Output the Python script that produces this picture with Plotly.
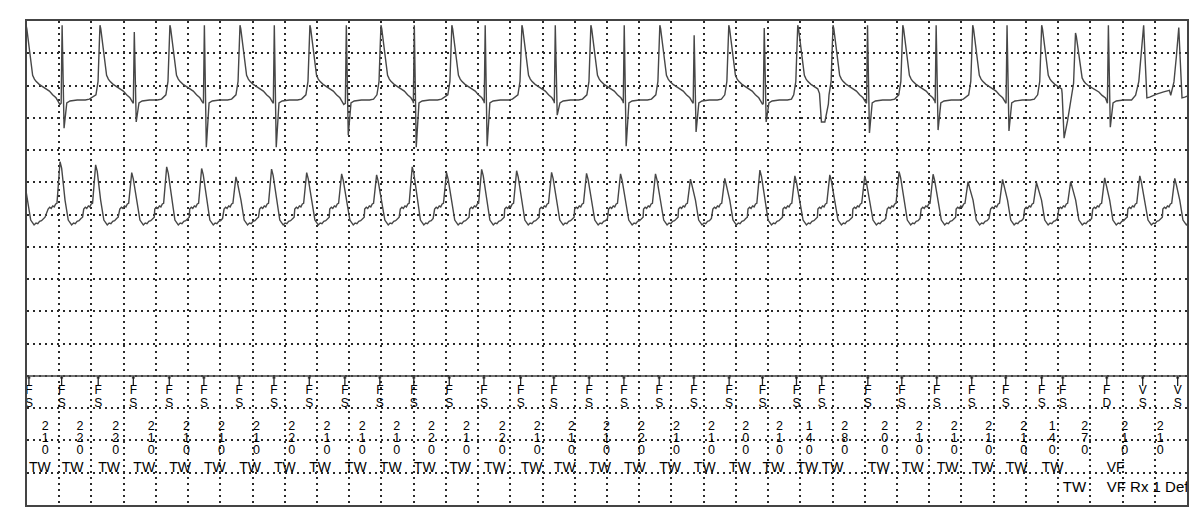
import plotly.graph_objects as go

# ---------------- data (time in ms, 200 ms per grid division; amplitude in grid divisions) ----------------
# Channel 1 (upper electrogram)
ch1_broad_t = [-6, 453, 887, 1322, 1756, 2197, 2637, 3072, 3500, 3928, 4356, 4784, 5003, 5436, 5870, 6298, 6508]
ch1_broad_peak = [14.87, 14.87, 14.87, 14.87, 14.87, 14.87, 14.87, 14.87, 14.87, 14.87, 14.87, 14.87, 14.87,
                  14.87, 14.87, 14.87, 14.63]
ch1_spike_t = [222, 670, 1105, 1539, 1986, 2408, 2848, 3283, 3711, 4145, 4580, 5221, 5647, 6087, 6716]
ch1_spike_top = [14.87, 14.66, 14.87, 14.87, 14.87, 14.87, 14.87, 14.87, 14.87, 14.56, 14.78, 14.87, 14.87,
                 14.87, 14.87]
ch1_spike_bottom = [11.68, 11.87, 11.09, 11.09, 11.46, 11.09, 11.12, 12.08, 11.12, 11.56, 11.87, 11.53, 11.62,
                    11.59, 11.71]
ch1_notch_t = [4931, 6437]
ch1_notch_depth = [11.87, 11.37]
ch1_notch_hold = [21, 0]
ch1_narrow_t = [6931, 7149]
ch1_narrow_peak = [14.87, 14.80]

# Channel 2 (lower electrogram)
ch2_beat_t = [-28, 205, 426, 650, 867, 1084, 1297, 1518, 1736, 1953, 2170, 2391, 2604, 2822, 3039, 3256,
              3473, 3684, 3901, 4118, 4331, 4549, 4766, 4983, 5200, 5413, 5624, 5841, 6055, 6266, 6478,
              6689, 6907, 7124]
ch2_beat_peak = [10.30, 10.64, 10.54, 10.30, 10.48, 10.43, 10.17, 10.41, 10.30, 10.26, 10.23, 10.48, 10.30,
                 10.40, 10.36, 10.31, 10.28, 10.26, 10.26, 10.10, 10.12, 10.38, 10.20, 10.23, 10.20, 10.33,
                 10.25, 10.02, 10.09, 9.99, 10.02, 10.14, 10.20, 10.12]

# Marker channel
marker_t = [12, 215, 442, 660, 883, 1098, 1317, 1533, 1752, 1973, 2190, 2401, 2621, 2836, 3064, 3270,
            3489, 3705, 3924, 4139, 4358, 4565, 4776, 4933, 5219, 5430, 5647, 5864, 6075, 6298, 6429,
            6702, 6925, 7142]
marker_top = ["F"] * 32 + ["V", "V"]
marker_bottom = ["S"] * 31 + ["D"] + ["S", "S"]
interval_ms = [210, 220, 220, 210, 210, 210, 210, 220, 210, 210, 210, 220, 210, 220, 210, 210, 210, 220,
               210, 210, 200, 210, 140, 280, 200, 210, 210, 210, 210, 140, 270, 210, 210]
zone_row1 = ["TW"] * 30 + ["", "VF", "", ""]
zone_row2 = [""] * 30 + ["TW", "VF Rx 1 Def", "", ""]

# ---------------- waveform shapes (morphology templates) ----------------
BASE1 = 12.55
BASE2 = 9.05
BROAD = [(-25, 0.07), (-12, 0.25), (-5, 0.7), (0, 1.0), (5, 0.95), (12, 0.83), (21, 0.69), (31, 0.47),
         (41, 0.33), (52, 0.28), (62, 0.25), (82, 0.21), (103, 0.18), (124, 0.15), (145, 0.12),
         (165, 0.07), (186, 0.03), (200, -0.02), (210, -0.06)]
NARROW = [(-50, 0.065), (-30, 0.25), (-15, 0.6), (0, 1.0), (8, 0.6), (20, 0.03), (37, 0.04), (80, 0.08),
          (124, 0.11), (160, 0.13)]
BEAT = [(-74, 0.12), (-64, 0.18), (-55, 0.14), (-45, 0.22), (-36, 0.19), (-27, 0.28), (-19, 0.30),
        (0, None), (10, "p2"), (31, 0.40), (51, -0.22), (72, -0.37), (84, -0.31), (95, -0.33),
        (106, -0.26), (118, -0.24), (130, -0.17), (140, -0.13)]


def assemble(events):
    events.sort(key=lambda e: e[0][0])
    xs, ys = [], []
    for i, pts in enumerate(events):
        limit = events[i + 1][0][0] if i + 1 < len(events) else float("inf")
        for t, y in pts:
            if t < limit:
                xs.append(t)
                ys.append(y)
    return xs, ys


ev1 = []
for t, pk in zip(ch1_broad_t, ch1_broad_peak):
    ev1.append([(t + dt, BASE1 + f * (pk - BASE1)) for dt, f in BROAD])
for t, top, bot in zip(ch1_spike_t, ch1_spike_top, ch1_spike_bottom):
    ev1.append([(t - 10, BASE1 - 0.1), (t - 4, top), (t + 8, bot), (t + 25, BASE1 - 0.09),
                (t + 45, BASE1 - 0.03), (t + 90, BASE1), (t + 140, BASE1), (t + 165, BASE1 + 0.03)])
for t, d, h in zip(ch1_notch_t, ch1_notch_depth, ch1_notch_hold):
    ev1.append([(t - 12, BASE1 + 0.2), (t, d), (t + h + 0.1, d), (t + h + 22, d + 0.55)])
for t, pk in zip(ch1_narrow_t, ch1_narrow_peak):
    ev1.append([(t + dt, BASE1 + f * (pk - BASE1)) for dt, f in NARROW])
x1, y1 = assemble(ev1)

ev2 = []
for t, pk in zip(ch2_beat_t, ch2_beat_peak):
    pts = []
    for dt, f in BEAT:
        if f is None:
            y = pk
        elif f == "p2":
            y = pk - 0.2
        else:
            y = BASE2 + f
        pts.append((t + dt, y))
    ev2.append(pts)
x2, y2 = assemble(ev2)

# ---------------- figure ----------------
FONT = "Liberation Sans, Arial, sans-serif"
TXT = "#000000"
fig = go.Figure()
fig.add_trace(go.Scatter(x=x1, y=y1, mode="lines", line=dict(color="#474747", width=1.4),
                         hoverinfo="skip"))
fig.add_trace(go.Scatter(x=x2, y=y2, mode="lines", line=dict(color="#474747", width=1.4),
                         hoverinfo="skip"))

# marker ticks
tx, ty = [], []
for t in marker_t:
    tx += [t, t, None, t - 9, t + 9, None]
    ty += [4.0, 3.69, None, 3.94, 3.94, None]
fig.add_trace(go.Scatter(x=tx, y=ty, mode="lines", line=dict(color="#222222", width=1.3),
                         hoverinfo="skip"))

fig.add_trace(go.Scatter(x=marker_t, y=[3.53] * len(marker_t), mode="text", text=marker_top,
                         textposition="middle center", textfont=dict(family=FONT, size=12, color=TXT)))
fig.add_trace(go.Scatter(x=marker_t, y=[3.13] * len(marker_t), mode="text", text=marker_bottom,
                         textposition="middle center", textfont=dict(family=FONT, size=12, color=TXT)))

mid_t = [(a + b) / 2 for a, b in zip(marker_t[:-1], marker_t[1:])]
digits = [f"{v:03d}" for v in interval_ms]
for k, yy in enumerate([2.42, 2.05, 1.68]):
    fig.add_trace(go.Scatter(x=mid_t, y=[yy] * len(mid_t), mode="text", text=[d[k] for d in digits],
                             textposition="middle center",
                             textfont=dict(family=FONT, size=12.5, color=TXT)))

fig.add_trace(go.Scatter(x=marker_t, y=[1.13] * len(marker_t), mode="text", text=zone_row1,
                         textposition="middle right", textfont=dict(family=FONT, size=14, color=TXT)))
fig.add_trace(go.Scatter(x=marker_t, y=[0.53] * len(marker_t), mode="text", text=zone_row2,
                         textposition="middle right", textfont=dict(family=FONT, size=15, color=TXT)))

axis_common = dict(showgrid=True, gridcolor="#2a2a2a", gridwidth=2, griddash="2px,4px",
                   showline=True, mirror=True, linecolor="#444444", linewidth=1.5,
                   showticklabels=False, ticks="", zeroline=False, fixedrange=True)
fig.update_xaxes(range=[0, 7200], dtick=200, tick0=0, **axis_common)
fig.update_yaxes(range=[0, 15], dtick=1, tick0=0, **axis_common)

fig.add_shape(type="line", xref="paper", x0=0, x1=1, yref="y", y0=4, y1=4,
              line=dict(color="#444444", width=1.5))

# page body has an 8 px margin; figure sized so the plot box lands on the reference frame
fig.update_layout(width=1192, height=506, margin=dict(l=19, r=13, t=13, b=9),
                  paper_bgcolor="white", plot_bgcolor="white", showlegend=False)

fig.write_html("out.html")
